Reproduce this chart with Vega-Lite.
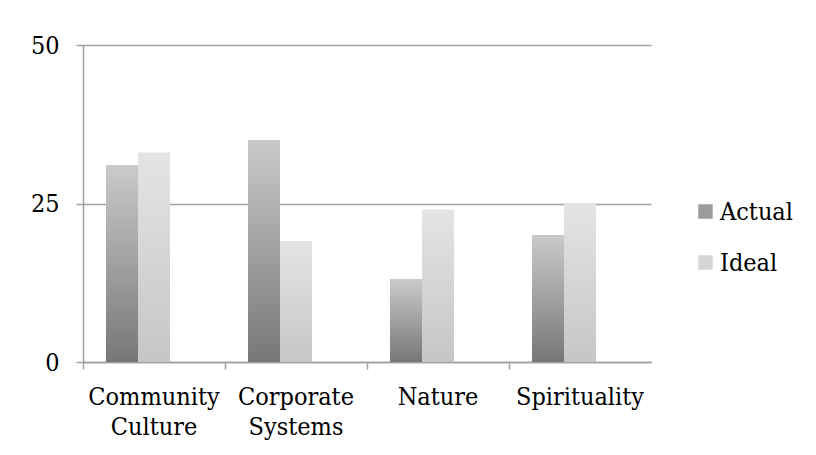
{
  "$schema": "https://vega.github.io/schema/vega-lite/v6.json",
  "width": 568,
  "height": 317,
  "autosize": "none",
  "padding": {"left": 83, "top": 45, "right": 165, "bottom": 93},
  "background": "white",
  "config": {"view": {"stroke": null}, "font": "DejaVu Serif Condensed, Liberation Serif"},
  "data": {
    "values": [
      {"category": "Community Culture", "series": "Actual", "value": 31},
      {"category": "Community Culture", "series": "Ideal", "value": 33},
      {"category": "Corporate Systems", "series": "Actual", "value": 35},
      {"category": "Corporate Systems", "series": "Ideal", "value": 19},
      {"category": "Nature", "series": "Actual", "value": 13},
      {"category": "Nature", "series": "Ideal", "value": 24},
      {"category": "Spirituality", "series": "Actual", "value": 20},
      {"category": "Spirituality", "series": "Ideal", "value": 25}
    ]
  },
  "encoding": {
    "x": {
      "field": "category",
      "type": "nominal",
      "sort": null,
      "scale": {"paddingInner": 0, "paddingOuter": 0},
      "axis": {
        "title": null,
        "labelAngle": 0,
        "bandPosition": 0,
        "ticks": true,
        "tickSize": 7,
        "tickColor": "#a0a0a0",
        "tickWidth": 1.5,
        "domainColor": "#a0a0a0",
        "domainWidth": 1.5,
        "labelFontSize": 25,
        "labelColor": "#000000",
        "labelPadding": 15,
        "labelLineHeight": 30,
        "labelExpr": "split(datum.label, ' ')",
        "grid": false
      }
    },
    "xOffset": {
      "field": "series",
      "type": "nominal",
      "scale": {"domain": ["Actual", "Ideal", "pad"], "paddingInner": 0, "paddingOuter": 0.72}
    },
    "y": {
      "field": "value",
      "type": "quantitative",
      "scale": {"domain": [0, 50]},
      "axis": {
        "title": null,
        "values": [0, 25, 50],
        "grid": true,
        "gridColor": "#a0a0a0",
        "gridWidth": 1.5,
        "tickSize": 7,
        "tickColor": "#a0a0a0",
        "tickWidth": 1.5,
        "domainColor": "#a0a0a0",
        "domainWidth": 1.5,
        "labelFontSize": 25,
        "labelColor": "#000000",
        "labelPadding": 17
      }
    }
  },
  "layer": [
    {
      "mark": {"type": "bar"},
      "encoding": {
        "color": {
          "field": "series",
          "type": "nominal",
          "scale": {"domain": ["Actual", "Ideal"], "range": ["#9c9c9c", "#d6d6d6"]},
          "legend": {
            "title": null,
            "orient": "none",
            "legendX": 610,
            "legendY": 154,
            "padding": 0,
            "symbolType": "square",
            "symbolSize": 210,
            "symbolStrokeWidth": 0,
            "symbolOpacity": 1,
            "labelFontSize": 25,
            "labelColor": "#000000",
            "labelOffset": 2,
            "rowPadding": 25
          }
        }
      }
    },
    {
      "mark": {"type": "bar"},
      "encoding": {
        "fill": {
          "condition": {
            "test": "datum.series === 'Actual'",
            "value": {"gradient": "linear", "x1": 0, "y1": 0, "x2": 0, "y2": 1, "stops": [{"offset": 0, "color": "#cacaca"}, {"offset": 1, "color": "#777777"}]}
          },
          "value": {"gradient": "linear", "x1": 0, "y1": 0, "x2": 0, "y2": 1, "stops": [{"offset": 0, "color": "#e4e4e4"}, {"offset": 1, "color": "#c6c6c6"}]}
        }
      }
    }
  ]
}
